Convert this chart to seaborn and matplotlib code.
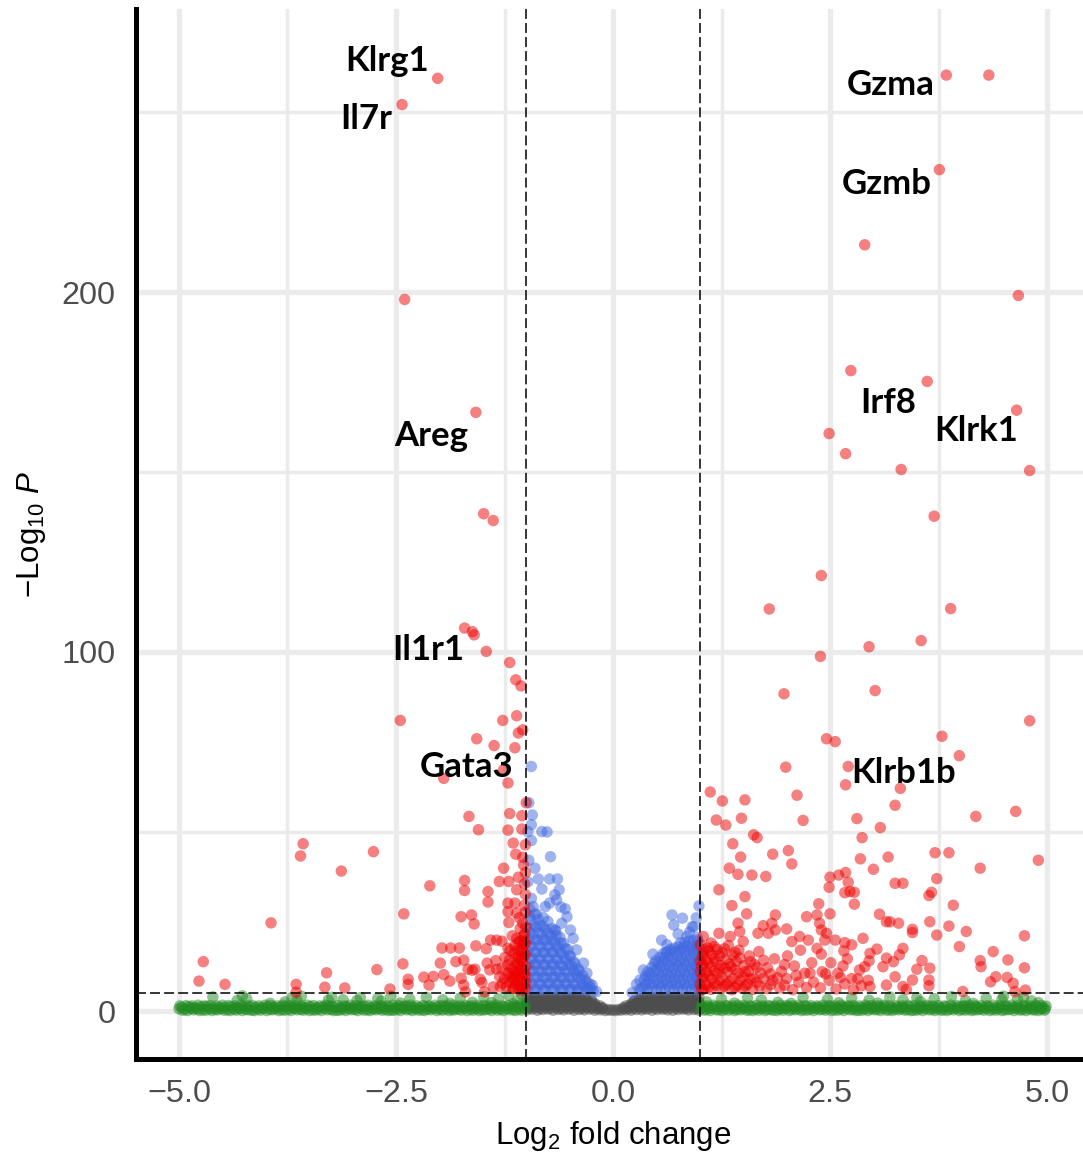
import numpy as np
import pandas as pd
import matplotlib
matplotlib.use("Agg")
import matplotlib.pyplot as plt
import seaborn as sns

# ---------------- data (log2 fold change, -log10 P) ----------------
ns_pts = [  # grey: |log2FC| < 1 and P not significant
    (-0.99,0.4),(-0.93,0.6),(-0.87,0.3),(-0.81,0.5),(-0.75,0.6),(-0.69,0.3),(-0.63,0.5),(-0.57,0.4),(-0.51,0.6),
    (-0.45,0.3),(-0.39,0.5),(-0.33,0.4),(-0.27,0.6),(-0.21,0.3),(-0.15,0.4),(-0.09,0.2),(-0.03,0.3),(0.03,0.2),
    (0.09,0.3),(0.15,0.4),(0.21,0.3),(0.27,0.5),(0.33,0.4),(0.39,0.6),(0.45,0.3),(0.51,0.5),(0.57,0.6),(0.63,0.4),
    (0.69,0.3),(0.75,0.5),(0.81,0.6),(0.87,0.4),(0.93,0.5),(0.99,0.3),
    (-0.96,0.9),(-0.90,1.0),(-0.84,0.8),(-0.78,1.0),(-0.72,0.9),(-0.66,1.1),(-0.60,0.8),(-0.54,1.0),(-0.48,0.9),
    (-0.42,1.1),(-0.36,0.8),(-0.30,1.0),(-0.24,0.9),(-0.18,0.8),(-0.12,0.7),(-0.06,0.5),(0.00,0.4),(0.06,0.5),
    (0.12,0.7),(0.18,0.8),(0.24,0.9),(0.30,1.0),(0.36,0.8),(0.42,1.1),(0.48,0.9),(0.54,1.0),(0.60,0.8),(0.66,1.1),
    (0.72,0.9),(0.78,1.0),(0.84,0.8),(0.90,1.1),(0.96,0.9),
    (-0.96,1.4),(-0.90,1.6),(-0.84,1.3),(-0.78,1.5),(-0.72,1.4),(-0.66,1.6),(-0.60,1.3),(-0.54,1.5),(-0.48,1.4),
    (-0.42,1.6),(-0.36,1.3),(-0.30,1.5),(-0.24,1.4),(-0.18,1.2),(-0.12,1.0),(0.12,1.0),(0.18,1.2),(0.24,1.4),
    (0.30,1.5),(0.36,1.3),(0.42,1.6),(0.48,1.4),(0.54,1.5),(0.60,1.3),(0.66,1.6),(0.72,1.4),(0.78,1.5),(0.84,1.3),
    (0.90,1.6),(0.96,1.4),
    (-0.99,1.9),(-0.93,2.0),(-0.87,1.8),(-0.81,2.0),(-0.75,1.9),(-0.69,2.1),(-0.63,1.8),(-0.57,2.0),(-0.51,1.9),
    (-0.45,2.1),(-0.39,1.8),(-0.33,2.0),(-0.27,1.9),(-0.21,1.7),(-0.15,1.5),(0.15,1.5),(0.21,1.7),(0.27,1.9),
    (0.33,2.0),(0.39,1.8),(0.45,2.1),(0.51,1.9),(0.57,2.0),(0.63,1.8),(0.69,2.1),(0.75,1.9),(0.81,2.0),(0.87,1.8),
    (0.93,2.1),(0.99,1.9),
    (-0.99,2.5),(-0.93,2.3),(-0.87,2.6),(-0.81,2.4),(-0.75,2.3),(-0.69,2.6),(-0.63,2.4),(-0.57,2.5),(-0.51,2.3),
    (-0.45,2.6),(-0.39,2.4),(-0.33,2.5),(-0.27,2.3),(-0.21,2.1),(0.21,2.1),(0.27,2.3),(0.33,2.4),(0.39,2.6),
    (0.45,2.3),(0.51,2.5),(0.57,2.4),(0.63,2.6),(0.69,2.3),(0.75,2.5),(0.81,2.4),(0.87,2.6),(0.93,2.3),(0.99,2.5),
    (-0.96,2.9),(-0.90,3.0),(-0.84,2.8),(-0.78,3.0),(-0.72,2.9),(-0.66,3.1),(-0.60,2.8),(-0.54,3.0),(-0.48,2.9),
    (-0.42,3.1),(-0.36,2.8),(-0.30,2.9),(-0.24,2.6),(0.24,2.6),(0.30,2.9),(0.36,2.8),(0.42,3.1),(0.48,2.9),
    (0.54,3.0),(0.60,2.8),(0.66,3.1),(0.72,2.9),(0.78,3.0),(0.84,2.8),(0.90,3.1),(0.96,2.9),
    (-0.96,3.4),(-0.90,3.6),(-0.84,3.3),(-0.78,3.5),(-0.72,3.4),(-0.66,3.6),(-0.60,3.3),(-0.54,3.5),(-0.48,3.4),
    (-0.42,3.6),(-0.36,3.3),(-0.30,3.2),(-0.25,3.0),(0.25,3.0),(0.30,3.3),(0.36,3.5),(0.42,3.4),(0.48,3.6),
    (0.54,3.3),(0.60,3.5),(0.66,3.4),(0.72,3.6),(0.78,3.3),(0.84,3.5),(0.90,3.4),(0.96,3.6),
    (-0.99,3.9),(-0.93,3.8),(-0.87,4.0),(-0.81,3.8),(-0.75,3.9),(-0.69,3.8),(-0.63,4.0),(-0.57,3.8),(-0.51,3.9),
    (-0.45,3.8),(-0.39,3.7),(-0.33,3.6),(0.33,3.6),(0.39,3.7),(0.45,3.8),(0.51,3.9),(0.57,3.8),(0.63,4.0),
    (0.69,3.8),(0.75,3.9),(0.81,3.8),(0.87,4.0),(0.93,3.8),(0.99,3.9),
]

fc_pts = [  # green: |log2FC| > 1, P not significant
    (-5.00,0.7),(-4.93,0.5),(-4.86,0.8),(-4.79,0.6),(-4.72,0.4),(-4.65,0.7),(-4.58,0.5),(-4.51,0.8),(-4.44,0.4),
    (-4.37,0.6),(-4.30,0.7),(-4.23,0.5),(-4.16,0.3),(-4.09,0.6),(-4.02,0.8),(-3.95,0.5),(-3.88,0.7),(-3.81,0.4),
    (-3.74,0.6),(-3.67,0.8),(-3.60,0.5),(-3.53,0.7),(-3.46,0.4),(-3.39,0.6),(-3.32,0.8),(-3.25,0.5),(-3.18,0.3),
    (-3.11,0.6),(-3.04,0.7),(-2.97,0.5),(-2.90,0.8),(-2.83,0.4),(-2.76,0.6),(-2.69,0.7),(-2.62,0.5),(-2.55,0.3),
    (-2.48,0.6),(-2.41,0.8),(-2.34,0.5),(-2.27,0.7),(-2.20,0.4),(-2.13,0.6),(-2.06,0.8),(-1.99,0.5),(-1.92,0.7),
    (-1.85,0.4),(-1.78,0.6),(-1.71,0.8),(-1.64,0.5),(-1.57,0.7),(-1.50,0.4),(-1.43,0.6),(-1.36,0.8),(-1.29,0.5),
    (-1.22,0.7),(-1.15,0.4),(-1.08,0.6),(-1.02,0.8),
    (-4.97,1.1),(-4.89,1.3),(-4.82,1.0),(-4.75,1.2),(-4.68,1.4),(-4.61,1.0),(-4.54,1.2),(-4.47,1.1),(-4.40,1.3),
    (-4.33,1.0),(-4.26,1.2),(-4.19,1.4),(-4.12,1.1),(-4.05,1.0),(-3.98,1.3),(-3.91,1.1),(-3.84,1.2),(-3.77,1.4),
    (-3.70,1.0),(-3.63,1.2),(-3.56,1.1),(-3.49,1.3),(-3.42,1.0),(-3.35,1.2),(-3.28,1.4),(-3.21,1.1),(-3.14,1.0),
    (-3.07,1.3),(-3.00,1.1),(-2.93,1.2),(-2.86,1.4),(-2.79,1.0),(-2.72,1.2),(-2.65,1.1),(-2.58,1.3),(-2.51,1.0),
    (-2.44,1.2),(-2.37,1.4),(-2.30,1.1),(-2.23,1.0),(-2.16,1.3),(-2.09,1.1),(-2.02,1.2),(-1.95,1.4),(-1.88,1.0),
    (-1.81,1.2),(-1.74,1.1),(-1.67,1.3),(-1.60,1.0),(-1.53,1.2),(-1.46,1.4),(-1.39,1.1),(-1.32,1.0),(-1.25,1.3),
    (-1.18,1.1),(-1.11,1.2),(-1.04,1.4),
    (-4.96,0.3),(-4.90,0.2),(-4.83,0.4),(-4.76,0.2),(-4.69,0.3),(-4.62,0.2),(-4.55,0.4),(-4.48,0.3),(-4.41,0.2),
    (-4.34,0.3),(-4.27,0.2),(-4.20,0.4),(-4.13,0.2),(-4.06,0.3),(-3.99,0.2),(-3.92,0.4),(-3.85,0.2),(-3.78,0.3),
    (-3.71,0.2),(-3.64,0.4),(-3.57,0.3),(-3.50,0.2),(-3.43,0.3),(-3.36,0.2),(-3.29,0.4),(-3.22,0.2),(-3.15,0.3),
    (-3.08,0.2),(-3.01,0.4),(-2.94,0.2),(-2.87,0.3),(-2.80,0.2),(-2.73,0.4),(-2.66,0.3),(-2.59,0.2),(-2.52,0.3),
    (-2.45,0.2),(-2.38,0.4),(-2.31,0.2),(-2.24,0.3),(-2.17,0.2),(-2.10,0.4),(-2.03,0.2),(-1.96,0.3),(-1.89,0.2),
    (-1.82,0.4),(-1.75,0.3),(-1.68,0.2),(-1.61,0.3),(-1.54,0.2),(-1.47,0.4),(-1.40,0.2),(-1.33,0.3),(-1.26,0.2),
    (-1.19,0.4),(-1.12,0.2),(-1.05,0.3),
    (-4.99,1.5),(-4.92,1.6),(-4.85,1.5),(-4.78,1.7),(-4.71,1.5),(-4.64,1.6),(-4.57,1.5),(-4.50,1.7),(-4.43,1.6),
    (-4.36,1.5),(-4.29,1.7),(-4.22,1.5),(-4.15,1.6),(-4.08,1.5),(-4.01,1.7),(-3.94,1.6),(-3.87,1.5),(-3.80,1.7),
    (-3.73,1.5),(-3.66,1.6),(-3.59,1.5),(-3.52,1.7),(-3.45,1.6),(-3.38,1.5),(-3.31,1.7),(-3.24,1.5),(-3.17,1.6),
    (-3.10,1.5),(-3.03,1.7),(-2.96,1.6),(-2.89,1.5),(-2.82,1.7),(-2.75,1.5),(-2.68,1.6),(-2.61,1.5),(-2.54,1.7),
    (-2.47,1.6),(-2.40,1.5),(-2.33,1.7),(-2.26,1.5),(-2.19,1.6),(-2.12,1.5),(-2.05,1.7),(-1.98,1.6),(-1.91,1.5),
    (-1.84,1.7),(-1.77,1.5),(-1.70,1.6),(-1.63,1.5),(-1.56,1.7),(-1.49,1.6),(-1.42,1.5),(-1.35,1.7),(-1.28,1.5),
    (-1.21,1.6),(-1.14,1.5),(-1.07,1.7),(-1.01,1.6),
    (-4.61,4.0),(-4.33,3.0),(-4.27,4.3),(-4.22,3.5),(-3.78,2.6),(-3.70,3.8),(-3.64,3.0),(-3.59,4.2),(-3.28,3.1),
    (-3.24,3.9),(-3.11,3.2),(-2.95,3.0),(-2.91,3.8),(-2.71,3.6),(-2.67,2.8),(-2.56,4.2),(-2.34,3.4),(-2.15,3.9),
    (-1.96,3.2),(-1.76,3.7),(-1.49,4.1),(-1.32,3.5),(-1.20,4.4),(-1.10,3.0),(-1.05,4.6),(-1.62,2.5),(-2.45,2.3),
    (-3.95,2.2),(-1.88,2.2),(-1.40,2.4),(-1.15,2.1),
    (1.01,0.7),(1.08,0.5),(1.15,0.8),(1.22,0.4),(1.29,0.6),(1.36,0.7),(1.43,0.5),(1.50,0.8),(1.57,0.4),(1.64,0.6),
    (1.71,0.7),(1.78,0.5),(1.85,0.3),(1.92,0.6),(1.99,0.8),(2.06,0.5),(2.13,0.7),(2.20,0.4),(2.27,0.6),(2.34,0.8),
    (2.41,0.5),(2.48,0.7),(2.55,0.4),(2.62,0.6),(2.69,0.8),(2.76,0.5),(2.83,0.3),(2.90,0.6),(2.97,0.7),(3.04,0.5),
    (3.11,0.8),(3.18,0.4),(3.25,0.6),(3.32,0.7),(3.39,0.5),(3.46,0.3),(3.53,0.6),(3.60,0.8),(3.67,0.5),(3.74,0.7),
    (3.81,0.4),(3.88,0.6),(3.95,0.8),(4.02,0.5),(4.09,0.7),(4.16,0.4),(4.23,0.6),(4.30,0.8),(4.37,0.5),(4.44,0.7),
    (4.51,0.4),(4.58,0.6),(4.65,0.8),(4.72,0.5),(4.79,0.7),(4.86,0.4),(4.93,0.6),(4.98,0.7),
    (1.04,1.2),(1.11,1.0),(1.18,1.3),(1.25,1.1),(1.32,1.4),(1.39,1.0),(1.46,1.2),(1.53,1.1),(1.60,1.3),(1.67,1.0),
    (1.74,1.2),(1.81,1.4),(1.88,1.1),(1.95,1.0),(2.02,1.3),(2.09,1.1),(2.16,1.2),(2.23,1.4),(2.30,1.0),(2.37,1.2),
    (2.44,1.1),(2.51,1.3),(2.58,1.0),(2.65,1.2),(2.72,1.4),(2.79,1.1),(2.86,1.0),(2.93,1.3),(3.00,1.1),(3.07,1.2),
    (3.14,1.4),(3.21,1.0),(3.28,1.2),(3.35,1.1),(3.42,1.3),(3.49,1.0),(3.56,1.2),(3.63,1.4),(3.70,1.1),(3.77,1.0),
    (3.84,1.3),(3.91,1.1),(3.98,1.2),(4.05,1.4),(4.12,1.0),(4.19,1.2),(4.26,1.1),(4.33,1.3),(4.40,1.0),(4.47,1.2),
    (4.54,1.4),(4.61,1.1),(4.68,1.0),(4.75,1.3),(4.82,1.1),(4.89,1.2),(4.95,1.0),
    (1.05,0.3),(1.12,0.2),(1.19,0.4),(1.26,0.2),(1.33,0.3),(1.40,0.2),(1.47,0.4),(1.54,0.3),(1.61,0.2),(1.68,0.3),
    (1.75,0.2),(1.82,0.4),(1.89,0.2),(1.96,0.3),(2.03,0.2),(2.10,0.4),(2.17,0.2),(2.24,0.3),(2.31,0.2),(2.38,0.4),
    (2.45,0.3),(2.52,0.2),(2.59,0.3),(2.66,0.2),(2.73,0.4),(2.80,0.2),(2.87,0.3),(2.94,0.2),(3.01,0.4),(3.08,0.2),
    (3.15,0.3),(3.22,0.2),(3.29,0.4),(3.36,0.3),(3.43,0.2),(3.50,0.3),(3.57,0.2),(3.64,0.4),(3.71,0.2),(3.78,0.3),
    (3.85,0.2),(3.92,0.4),(3.99,0.2),(4.06,0.3),(4.13,0.2),(4.20,0.4),(4.27,0.3),(4.34,0.2),(4.41,0.3),(4.48,0.2),
    (4.55,0.4),(4.62,0.2),(4.69,0.3),(4.76,0.2),(4.83,0.4),(4.90,0.2),(4.97,0.3),
    (1.02,1.6),(1.09,1.5),(1.16,1.7),(1.23,1.5),(1.30,1.6),(1.37,1.5),(1.44,1.7),(1.51,1.6),(1.58,1.5),(1.65,1.7),
    (1.72,1.5),(1.79,1.6),(1.86,1.5),(1.93,1.7),(2.00,1.6),(2.07,1.5),(2.14,1.7),(2.21,1.5),(2.28,1.6),(2.35,1.5),
    (2.42,1.7),(2.49,1.6),(2.56,1.5),(2.63,1.7),(2.70,1.5),(2.77,1.6),(2.84,1.5),(2.91,1.7),(2.98,1.6),(3.05,1.5),
    (3.12,1.7),(3.19,1.5),(3.26,1.6),(3.33,1.5),(3.40,1.7),(3.47,1.6),(3.54,1.5),(3.61,1.7),(3.68,1.5),(3.75,1.6),
    (3.82,1.5),(3.89,1.7),(3.96,1.6),(4.03,1.5),(4.10,1.7),(4.17,1.5),(4.24,1.6),(4.31,1.5),(4.38,1.7),(4.45,1.6),
    (4.52,1.5),(4.59,1.7),(4.66,1.5),(4.73,1.6),(4.80,1.5),(4.87,1.7),(4.94,1.6),(4.99,1.4),
    (1.08,2.6),(1.25,3.4),(1.55,3.8),(1.71,3.2),(1.90,2.5),(2.19,3.9),(2.47,3.3),(2.60,2.4),(2.75,3.7),(2.95,3.1),
    (3.19,4.0),(3.34,3.2),(3.50,3.8),(3.54,2.7),(3.70,3.5),(3.90,4.1),(4.06,3.0),(4.30,3.7),(4.48,3.3),(4.50,4.2),
    (4.66,3.4),(4.73,3.9),(4.82,2.9),(1.40,2.3),(2.05,2.2),(3.05,2.3),(4.15,2.2),(4.90,2.4),
]

p_pts = [  # blue: P significant, |log2FC| < 1
    (-0.94,68.1),(-0.93,54.6),(-0.94,51.9),(-0.82,50.0),(-0.76,49.9),(-0.94,47.5),(-0.72,43.0),(-0.90,39.8),
    (-0.86,36.8),(-0.73,36.8),(-0.64,36.8),(-0.82,34.0),(-0.67,32.4),(-0.62,33.8),(-0.94,31.4),(-0.92,29.1),
    (-0.78,29.1),(-0.73,30.1),(-0.65,31.0),(-0.53,26.3),(-0.59,24.5),(-0.67,22.6),(-0.49,22.6),(-0.46,20.3),
    (-0.42,17.1),(-0.34,13.4),(-0.30,10.6),(-0.24,7.3),(-0.19,5.5),(-0.97,42.0),(-0.98,36.0),(-0.96,26.5),
    (-0.88,27.0),(-0.80,26.0),(-0.84,24.0),(-0.75,25.0),(-0.97,58.0),(-0.98,50.0),(-0.55,28.5),(-0.60,29.0),
    (-0.98,6.0),(-0.98,9.5),(-0.97,13.0),(-0.98,16.5),(-0.97,20.0),(-0.96,23.0),
    (-0.93,7.6),(-0.92,11.2),(-0.93,14.6),(-0.94,18.1),(-0.92,21.4),
    (-0.88,6.2),(-0.87,9.6),(-0.88,13.1),(-0.89,16.4),(-0.87,19.8),(-0.88,23.5),
    (-0.83,7.5),(-0.82,11.0),(-0.84,14.4),(-0.83,17.9),(-0.82,21.2),
    (-0.78,6.1),(-0.77,9.4),(-0.78,12.9),(-0.79,16.3),(-0.77,19.7),(-0.78,22.8),
    (-0.73,7.7),(-0.72,11.1),(-0.74,14.5),(-0.73,17.8),(-0.72,21.0),
    (-0.68,6.3),(-0.67,9.6),(-0.68,13.0),(-0.69,16.4),(-0.67,19.5),(-0.66,22.4),
    (-0.63,7.4),(-0.62,10.9),(-0.64,14.2),(-0.63,17.6),(-0.61,20.6),
    (-0.58,6.0),(-0.57,9.3),(-0.58,12.6),(-0.59,15.9),(-0.57,18.9),
    (-0.53,7.6),(-0.52,10.9),(-0.54,14.1),(-0.52,17.2),
    (-0.48,6.2),(-0.47,9.4),(-0.48,12.6),(-0.49,15.3),
    (-0.43,7.3),(-0.42,10.5),(-0.44,13.2),(-0.38,6.1),(-0.37,9.0),(-0.39,11.3),
    (-0.33,6.6),(-0.32,8.8),(-0.28,6.0),(-0.27,7.6),(-0.23,5.6),
    (-0.955,7.8),(-0.955,11.3),(-0.955,14.8),(-0.955,18.3),(-0.955,21.8),(-0.95,25.5),(-0.96,28.5),
    (-0.905,6.0),(-0.905,9.4),(-0.905,12.9),(-0.905,16.4),(-0.905,19.9),(-0.91,24.0),(-0.90,27.0),
    (-0.855,7.8),(-0.855,11.3),(-0.855,14.8),(-0.855,18.3),(-0.855,21.8),(-0.86,25.5),
    (-0.805,6.0),(-0.805,9.4),(-0.805,12.9),(-0.805,16.4),(-0.805,19.9),(-0.80,23.5),
    (-0.755,7.8),(-0.755,11.3),(-0.755,14.8),(-0.755,18.3),(-0.755,21.8),
    (-0.705,6.0),(-0.705,9.4),(-0.705,12.9),(-0.705,16.4),(-0.705,19.9),(-0.70,23.0),
    (-0.655,7.8),(-0.655,11.3),(-0.655,14.8),(-0.655,18.3),(-0.65,21.0),
    (-0.605,6.0),(-0.605,9.4),(-0.605,12.9),(-0.605,16.4),(-0.60,19.0),
    (-0.555,7.8),(-0.555,11.3),(-0.555,14.8),(-0.55,17.5),
    (-0.505,6.0),(-0.505,9.4),(-0.505,12.9),(-0.50,15.5),
    (-0.455,7.8),(-0.455,11.3),(-0.45,13.8),(-0.405,6.0),(-0.405,9.4),(-0.40,11.8),
    (-0.355,7.5),(-0.35,10.0),(-0.305,6.0),(-0.30,8.0),(-0.255,6.5),
    (0.99,29.3),(0.68,26.8),(0.80,25.9),(0.70,24.0),(0.91,23.5),(0.85,20.8),(0.56,19.8),(0.46,15.9),(0.35,11.5),
    (0.31,8.7),(0.27,7.5),(0.22,5.2),(0.93,23.5),(0.96,26.0),(0.75,21.5),(0.62,18.5),(0.97,20.5),(0.88,22.0),
    (0.30,6.0),(0.35,6.6),(0.36,8.7),(0.40,6.1),(0.41,9.0),(0.40,11.0),(0.45,6.5),(0.46,9.4),(0.45,12.3),
    (0.50,6.0),(0.51,8.9),(0.50,11.8),(0.49,14.0),(0.55,6.6),(0.56,9.5),(0.55,12.5),(0.54,15.0),
    (0.60,6.1),(0.61,9.0),(0.60,12.0),(0.59,14.9),(0.61,16.4),(0.65,6.5),(0.66,9.4),(0.65,12.4),(0.64,15.3),(0.66,17.3),
    (0.70,6.0),(0.71,9.0),(0.70,12.0),(0.69,14.9),(0.71,17.6),(0.75,6.6),(0.76,9.5),(0.75,12.6),(0.74,15.5),(0.76,18.0),
    (0.80,6.1),(0.81,9.0),(0.80,12.1),(0.79,15.0),(0.81,17.8),(0.85,6.5),(0.86,9.4),(0.85,12.5),(0.84,15.4),(0.86,18.2),
    (0.90,6.0),(0.91,9.1),(0.90,12.0),(0.89,15.1),(0.91,18.0),(0.95,6.6),(0.96,9.5),(0.95,12.4),(0.94,15.5),(0.96,17.6),
    (0.99,6.2),(0.99,9.0),(0.98,12.1),(0.99,15.2),(0.98,18.4),
    (0.325,6.3),(0.375,7.5),(0.375,9.8),(0.425,7.6),(0.425,10.5),(0.475,7.8),(0.475,11.0),(0.475,13.2),
    (0.525,7.6),(0.525,10.6),(0.525,13.5),(0.575,7.8),(0.575,10.8),(0.575,13.8),(0.575,16.0),
    (0.625,7.6),(0.625,10.6),(0.625,13.6),(0.625,16.5),(0.675,7.8),(0.675,10.8),(0.675,13.8),(0.675,16.8),
    (0.725,7.6),(0.725,10.6),(0.725,13.6),(0.725,16.6),(0.775,7.8),(0.775,10.8),(0.775,13.8),(0.775,16.8),(0.775,19.0),
    (0.825,7.6),(0.825,10.6),(0.825,13.6),(0.825,16.6),(0.825,19.2),(0.875,7.8),(0.875,10.8),(0.875,13.8),(0.875,16.8),
    (0.875,19.5),(0.925,7.6),(0.925,10.6),(0.925,13.6),(0.925,16.6),(0.925,19.6),(0.975,7.8),(0.975,10.8),
    (0.975,13.8),(0.975,16.8),(0.975,19.8),
]

sig_pts = [  # red: P significant and |log2FC| > 1
    (-2.02,259.5),(-2.43,252.2),(-2.40,198.0),(-1.58,166.6),(-1.49,138.4),(-1.38,136.5),(-1.71,106.6),(-1.60,104.7),
    (-1.62,105.6),(-1.46,100.1),(-1.19,97.0),(-1.12,92.2),(-1.06,90.5),(-2.45,80.9),(-1.27,80.9),(-1.11,82.2),
    (-1.04,78.3),(-1.09,77.4),(-1.57,75.8),(-1.37,73.9),(-1.13,73.3),(-1.95,64.8),(-1.26,67.2),(-1.21,63.5),
    (-1.66,54.2),(-1.19,55.0),(-1.05,54.4),(-1.55,50.5),(-1.21,50.4),(-1.05,50.7),(-1.15,46.8),(-1.01,46.3),
    (-1.12,43.7),(-1.04,42.8),(-1.26,39.8),(-1.03,40.7),(-1.09,37.3),(-1.71,36.4),(-2.11,34.9),(-1.71,33.6),
    (-1.31,36.1),(-1.20,36.1),(-1.11,33.8),(-1.44,33.3),(-1.44,30.4),(-1.21,30.1),(-1.13,30.1),(-2.41,27.1),
    (-1.75,26.3),(-1.63,26.8),(-1.60,24.3),(-1.21,27.7),(-1.20,24.7),(-1.11,27.3),
    (-3.57,46.6),(-3.60,43.2),(-2.76,44.4),(-3.13,39.0),(-3.94,24.6),(-4.72,13.8),(-4.77,8.4),(-4.47,7.5),
    (-3.65,7.5),(-3.65,5.3),(-3.30,10.7),(-3.32,6.7),(-3.09,6.5),(-2.72,11.6),(-2.57,6.2),(-2.42,13.2),
    (-2.36,8.9),(-2.36,7.5),
    (-1.97,17.6),(-1.87,17.6),(-1.77,17.6),(-1.58,18.2),(-1.46,17.4),(-1.41,19.8),(-1.34,19.8),(-1.28,19.5),
    (-1.11,20.3),(-1.03,19.8),(-1.21,17.5),(-1.99,13.4),(-1.81,13.8),(-1.72,14.2),(-1.67,11.7),(-1.59,11.7),
    (-1.45,13.4),(-1.35,14.1),(-1.42,11.5),(-1.34,11.7),(-1.28,12.0),(-2.18,9.5),(-2.07,9.7),(-1.95,10.2),
    (-1.88,8.4),(-1.75,9.2),(-1.53,8.9),(-1.51,8.0),(-2.12,7.3),(-1.72,7.3),(-1.38,6.8),(-1.30,6.8),(-1.70,5.4),
    (-1.48,5.4),(-1.62,11.4),
    (-1.01,6.2),(-1.03,8.4),(-1.02,11.0),(-1.04,13.6),(-1.01,15.8),(-1.05,17.2),(-1.02,21.5),(-1.06,6.8),
    (-1.08,9.6),(-1.07,12.3),(-1.09,15.0),(-1.06,16.8),(-1.12,7.6),(-1.13,10.8),(-1.11,13.3),(-1.15,6.5),
    (-1.14,16.2),(-1.16,9.1),(-1.17,12.0),(-1.04,24.5),(-1.07,23.0),(-1.01,27.5),(-1.09,19.2),(-1.19,8.0),
    (-1.21,10.6),(-1.23,6.8),(-1.25,9.2),(-1.19,14.3),(-1.13,18.3),(-1.16,21.0),(-1.01,32.5),(-1.02,35.5),
    (-1.01,38.5),(-1.00,58.0),(-1.01,10.0),(-1.04,5.8),(-1.09,6.0),(-1.03,18.8),(-1.06,14.4),(-1.10,10.8),
    (-1.08,26.0),(-1.14,8.7),(-1.03,16.5),(-1.02,29.5),
    (-1.005,8.0),(-1.005,12.5),(-1.005,19.0),(-1.005,23.5),(-1.035,7.0),(-1.035,10.2),(-1.035,15.0),(-1.035,21.0),
    (-1.065,8.5),(-1.065,11.5),(-1.065,19.5),(-1.095,7.2),(-1.095,13.0),(-1.095,17.0),(-1.125,9.6),(-1.125,14.8),
    (-1.155,11.6),(-1.155,6.3),(-1.185,9.8),(-1.185,17.0),(-1.215,12.9),(-1.245,15.0),(-1.275,7.8),(-1.305,9.6),
    (3.84,260.4),(4.33,260.4),(3.76,234.1),(2.90,213.2),(4.67,199.1),(2.74,178.2),(3.62,175.2),(4.65,167.2),
    (2.49,160.7),(2.68,155.1),(3.32,150.7),(4.80,150.4),(3.70,137.7),(2.40,121.2),(1.80,111.9),(3.89,112.0),
    (3.55,103.1),(2.95,101.4),(2.39,98.7),(1.97,88.3),(3.02,89.2),(4.80,80.8),(2.46,75.8),(2.56,75.0),
    (3.79,76.5),(3.99,71.1),(1.99,67.9),(2.71,68.1),(2.68,63.0),(3.31,62.0),(1.12,61.0),(2.12,60.1),(1.26,58.5),
    (1.52,58.8),
    (1.19,53.2),(1.30,51.8),(1.48,53.7),(2.19,53.1),(2.81,53.6),(3.08,51.1),(2.87,48.3),(1.62,49.1),(1.66,48.3),
    (1.38,46.6),(1.47,42.9),(1.84,43.7),(2.02,44.7),(2.06,41.0),(2.85,42.4),(3.00,39.5),(1.34,39.8),(1.44,38.1),
    (1.60,37.9),(1.76,37.5),(2.50,37.3),(2.60,37.9),(2.68,38.6),(2.49,34.5),(2.71,35.9),(2.73,33.3),(2.67,33.0),
    (2.78,33.1),(1.22,33.8),(1.52,31.9),(1.37,29.4),(2.37,29.9),(2.78,29.8),(1.54,27.1),(1.87,26.8),(2.23,26.3),
    (2.35,26.8),(2.50,27.1),(3.07,27.0),(3.15,24.9),(1.44,24.5),(1.73,23.8),(1.83,24.5),(2.00,22.9),(2.38,24.5),
    (2.40,22.6),(2.46,21.7),(1.22,21.7),(1.35,20.8),(1.46,22.2),(1.50,19.4),(1.67,21.7),(1.79,21.7),(1.87,22.6),
    (2.06,19.4),(2.15,20.8),(2.25,19.8),(2.35,17.5),(2.44,19.8),(2.56,19.8),(2.67,19.1),(2.75,18.5),(2.88,20.3),
    (2.96,16.1),(3.04,17.3),(1.04,20.8),(1.04,17.1),
    (3.25,57.3),(4.18,54.2),(4.64,55.6),(3.17,42.9),(3.71,44.1),(3.87,44.1),(4.23,39.8),(4.90,42.0),(3.25,35.6),
    (3.34,35.6),(3.73,36.9),(3.67,33.1),(3.64,32.2),(3.92,29.5),(3.19,24.9),(3.29,24.5),(3.45,22.8),(3.45,21.9),
    (3.65,24.9),(3.73,21.2),(3.87,23.7),(4.07,22.2),(4.74,21.0),(3.99,18.0),(3.15,14.8),(3.34,17.5),(3.30,15.7),
    (3.23,13.8),(3.11,12.4),(3.56,14.1),(3.65,12.0),(3.50,11.7),(4.23,14.1),(4.24,12.4),(4.38,16.6),(4.55,14.3),
    (4.74,12.1),(3.25,9.6),(3.45,8.7),(3.64,8.7),(3.64,7.1),(3.15,7.3),(3.34,6.9),(3.38,6.1),(4.35,8.2),(4.41,9.6),
    (4.54,9.4),(4.61,7.8),(4.75,5.9),(4.03,5.5),(4.63,5.5),(2.96,6.9),
    (1.02,6.0),(1.03,9.2),(1.02,12.6),(1.03,15.4),(1.07,7.4),(1.08,10.8),(1.07,14.2),(1.09,17.6),
    (1.13,6.1),(1.14,9.0),(1.12,12.3),(1.14,15.8),(1.13,19.0),(1.19,7.2),(1.20,10.5),(1.18,13.9),(1.20,17.2),
    (1.25,6.3),(1.26,9.4),(1.24,12.8),(1.26,16.3),(1.31,7.6),(1.32,10.9),(1.30,14.4),(1.33,18.3),
    (1.37,6.0),(1.38,9.1),(1.36,12.4),(1.38,15.6),(1.43,7.3),(1.44,10.6),(1.42,13.9),(1.45,17.0),
    (1.49,6.4),(1.50,9.6),(1.51,12.7),(1.55,7.6),(1.56,11.1),(1.57,15.4),(1.61,6.1),(1.62,9.2),(1.63,13.0),
    (1.69,7.0),(1.70,10.6),(1.68,16.6),(1.77,6.3),(1.78,12.1),(1.84,8.6),(1.86,14.6),(1.92,6.5),(1.94,11.1),
    (2.00,9.1),(2.01,15.4),(2.07,6.0),(2.09,12.6),(2.14,8.1),(2.16,17.0),(2.21,10.6),(2.23,6.6),(2.29,13.5),
    (2.31,8.1),(2.39,6.5),(2.41,11.0),(2.40,15.9),(2.49,8.6),(2.51,13.5),(2.57,6.2),(2.59,10.6),(2.65,12.6),
    (2.67,7.6),(2.66,16.8),(2.75,9.1),(2.77,6.0),(2.84,11.5),(2.86,7.1),(2.94,8.6),(2.95,14.0),
    (1.005,7.5),(1.005,11.0),(1.005,14.0),(1.005,18.5),(1.045,6.2),(1.045,9.6),(1.045,12.8),(1.045,16.2),
    (1.105,6.8),(1.105,10.0),(1.105,13.4),(1.105,16.8),(1.165,7.8),(1.165,11.2),(1.165,14.6),(1.165,18.0),
    (1.225,8.6),(1.225,11.8),(1.225,15.4),(1.285,7.0),(1.285,12.0),(1.285,17.4),(1.345,8.3),(1.345,13.2),
    (1.405,6.6),(1.405,11.6),(1.405,16.4),(1.465,8.6),(1.465,14.8),(1.525,7.0),(1.525,11.0),(1.585,9.0),
    (1.585,13.8),(1.655,8.0),(1.655,12.2),(1.735,9.2),(1.735,14.2),(1.815,7.4),(1.815,10.4),(1.895,9.3),
    (1.975,7.2),(1.975,13.0),(2.11,10.0),(2.27,10.6),(2.45,10.4),(2.62,9.4),(2.70,14.6),(2.82,9.0),(2.90,12.4),
]

label_genes = ["Klrg1", "Il7r", "Gzma", "Gzmb", "Areg", "Irf8", "Klrk1", "Il1r1", "Gata3", "Klrb1b"]
label_x = [-2.02, -2.43, 3.84, 3.76, -1.58, 3.62, 4.65, -1.60, -1.95, 2.71]
label_y = [259.5, 252.2, 260.4, 234.1, 166.6, 175.2, 167.2, 104.7, 64.8, 68.1]

x_ticks = [-5.0, -2.5, 0.0, 2.5, 5.0]
x_ticklabels = ["\u22125.0", "\u22122.5", "0.0", "2.5", "5.0"]
y_ticks = [0, 100, 200]
y_ticklabels = ["0", "100", "200"]
fc_cutoff = 1.0
p_cutoff_log = 5.0

# ---------------- build table ----------------
groups = [("NS", ns_pts), ("Log2 FC", fc_pts), ("p-value", p_pts), ("p-value and log2 FC", sig_pts)]
rows = []
for g, pts in groups:
    for x, y in pts:
        rows.append((x, y, g))
df = pd.DataFrame(rows, columns=["log2fc", "nlog10p", "group"])

palette = {"NS": "#4D4D4D", "Log2 FC": "#228B22", "p-value": "#4169E1", "p-value and log2 FC": "#EE0000"}

# ---------------- plot ----------------
sns.set_style("white")
plt.rcParams["font.family"] = ["Liberation Sans", "DejaVu Sans"]
plt.rcParams["mathtext.fontset"] = "custom"
plt.rcParams["mathtext.rm"] = "Liberation Sans"
plt.rcParams["mathtext.it"] = "Liberation Sans:italic"

W, H = 1083, 1154
fig = plt.figure(figsize=(W / 100, H / 100), dpi=100)
ax_left, ax_right, ax_top, ax_bottom = 135.6, 1090.4, 9.3, 1059.0
ax = fig.add_axes([ax_left / W, 1 - ax_bottom / H, (ax_right - ax_left) / W, (ax_bottom - ax_top) / H])

sns.scatterplot(data=df, x="log2fc", y="nlog10p", hue="group", palette=palette,
                s=68, alpha=0.5, linewidth=0, edgecolor="none", legend=False, ax=ax, zorder=3)

ax.set_xlim(-5.5, 5.5)
ax.set_ylim(-13.27, 278.7)

ax.set_xticks(x_ticks)
ax.set_xticklabels(x_ticklabels)
ax.set_yticks(y_ticks)
ax.set_yticklabels(y_ticklabels)
ax.set_xticks([-3.75, -1.25, 1.25, 3.75], minor=True)
ax.set_yticks([50, 150, 250], minor=True)

ax.grid(which="major", color="#EBEBEB", linewidth=3.8, zorder=0)
ax.grid(which="minor", color="#EBEBEB", linewidth=2.5, zorder=0)
ax.set_axisbelow(True)

for s in ["top", "right"]:
    ax.spines[s].set_visible(False)
for s in ["left", "bottom"]:
    ax.spines[s].set_color("black")
    ax.spines[s].set_linewidth(3.6)

ax.tick_params(which="major", direction="out", length=8.6, width=4.0, color="#333333",
               labelsize=23.3, labelcolor="#4D4D4D", pad=5.8)
ax.tick_params(which="minor", length=0)

dash = (0, (6.5, 2.7))
ax.axvline(-fc_cutoff, color="black", lw=1.1, ls=dash, zorder=4)
ax.axvline(fc_cutoff, color="black", lw=1.1, ls=dash, zorder=4)
ax.axhline(p_cutoff_log, color="black", lw=1.1, ls=dash, zorder=4)

ax.set_xlabel(r"Log$_2$ fold change", fontsize=22.5, color="black", labelpad=7)
ax.set_ylabel(r"$-$Log$_{10}$ $P$", fontsize=22.5, color="black", labelpad=10)

label_offsets = {"Klrg1": (-36.7, 5.3), "Il7r": (-25.9, -17.8), "Gzma": (-40.0, -14.6),
                 "Gzmb": (-37.9, -17.5), "Areg": (-32.4, -24.0), "Irf8": (-27.9, -22.5),
                 "Klrk1": (-28.8, -22.3), "Il1r1": (-33.3, -18.0), "Gata3": (16.2, 1.2),
                 "Klrb1b": (39.6, -12.0)}
for g, x, y in zip(label_genes, label_x, label_y):
    ax.annotate(g, xy=(x, y), xytext=label_offsets[g], textcoords="offset points",
                ha="center", va="baseline", fontsize=25, fontweight="bold",
                family=["Lato", "DejaVu Sans"], color="black", zorder=6)

fig.savefig("out.png", dpi=100)
